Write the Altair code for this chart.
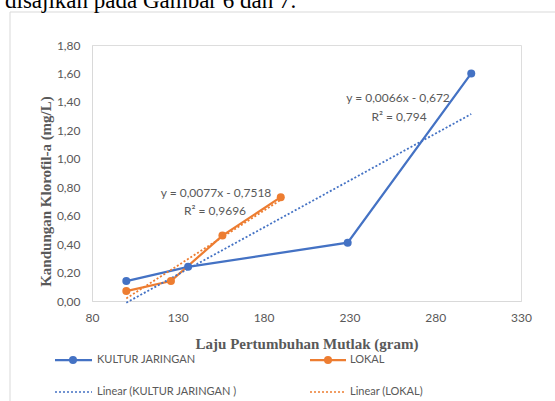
import altair as alt
import pandas as pd

# Measured points: absolute growth rate (g) vs chlorophyll-a content (mg/L)
kultur_x = [100, 136, 229, 301]
kultur_y = [0.14, 0.24, 0.41, 1.60]
lokal_x = [100, 126, 156, 190]
lokal_y = [0.07, 0.14, 0.46, 0.73]

series_names = ["KULTUR JARINGAN", "LOKAL"]
series_colors = ["#4472C4", "#ED7D31"]

# Linear trendlines as reported on the chart
trend_slope = [0.0066, 0.0077]
trend_intercept = [-0.672, -0.7518]
trend_r2 = ["0,794", "0,9696"]
trend_x_start = [100, 100]
trend_x_end = [301, 190]

x_ticks = [80, 130, 180, 230, 280, 330]
y_ticks = [0.0, 0.2, 0.4, 0.6, 0.8, 1.0, 1.2, 1.4, 1.6, 1.8]

W, H = 429, 256
GRAY = "#595959"
LABEL_FONT = "Lato"
SERIF = "Liberation Serif"

rows = []
for name, xs, ys in [(series_names[0], kultur_x, kultur_y), (series_names[1], lokal_x, lokal_y)]:
    for xv, yv in zip(xs, ys):
        rows.append({"series": name, "x": xv, "y": yv})
points = pd.DataFrame(rows)

trend_rows = []
for i, name in enumerate(series_names):
    for xv in (trend_x_start[i], trend_x_end[i]):
        trend_rows.append({"series": name, "x": xv,
                           "slope": trend_slope[i], "intercept": trend_intercept[i]})
trend = pd.DataFrame(trend_rows)

x_scale = alt.Scale(domain=[80, 330], nice=False, zero=False)
y_scale = alt.Scale(domain=[0, 1.8], nice=False)
color_scale = alt.Scale(domain=series_names, range=series_colors)

x_axis = alt.Axis(
    values=x_ticks, title="Laju Pertumbuhan Mutlak (gram)", grid=False, ticks=False,
    domainColor="#d9d9d9", domainWidth=1, labelColor=GRAY, labelFont=LABEL_FONT,
    labelFontSize=12, labelPadding=11, labelFlush=False, labelOverlap=False,
    titleFont=SERIF, titleFontWeight="bold", titleFontSize=15, titleColor=GRAY,
    titleY=42, titleBaseline="middle",
)
y_axis = alt.Axis(
    values=y_ticks, title="Kandungan Klorofil-a (mg/L)", grid=False, ticks=False,
    domainColor="#d9d9d9", domainWidth=1, labelColor=GRAY, labelFont=LABEL_FONT,
    labelFontSize=12, labelPadding=12, labelOverlap=False, labelFlush=False,
    labelExpr="replace(format(datum.value, '.2f'), '.', ',')",
    titleFont=SERIF, titleFontWeight="bold", titleFontSize=15, titleColor=GRAY,
    titleX=-47, titleY=146, titleBaseline="middle", titleAngle=270,
)

X = alt.X("x:Q", scale=x_scale, axis=x_axis)
color = alt.Color("series:N", scale=color_scale, legend=None)

lines = alt.Chart(points).mark_line(strokeWidth=2.25).encode(
    x=X, y=alt.Y("y:Q", scale=y_scale, axis=y_axis), color=color, detail="series:N",
)
dots = alt.Chart(points).mark_point(filled=True, size=64, opacity=1).encode(
    x=X, y=alt.Y("y:Q", scale=y_scale, axis=y_axis), color=color,
)
trendlines = alt.Chart(trend).transform_calculate(
    ty="datum.slope * datum.x + datum.intercept"
).mark_line(strokeWidth=1.8, strokeDash=[2, 2], clip=False).encode(
    x=X, y=alt.Y("ty:Q", scale=y_scale, axis=y_axis), color=color, detail="series:N",
)


def fmt(v):
    return str(v).replace(".", ",").replace("-", "")


def label(text, x, y, size=12, color=GRAY, font=LABEL_FONT, align="center",
          weight="normal"):
    return alt.Chart(alt.Data(values=[{}])).mark_text(
        font=font, fontSize=size, color=color, align=align, baseline="middle",
        fontWeight=weight,
    ).encode(x=alt.value(x), y=alt.value(y), text=alt.value(text))


def hline(x1, x2, y, color, dash=None, width=2.25):
    kw = {"color": color, "strokeWidth": width}
    if dash:
        kw["strokeDash"] = dash
    return alt.Chart(alt.Data(values=[{}])).mark_rule(**kw).encode(
        x=alt.value(x1), x2=alt.value(x2), y=alt.value(y))


def dot(x, y, color):
    return alt.Chart(alt.Data(values=[{}])).mark_point(
        filled=True, size=64, opacity=1, color=color
    ).encode(x=alt.value(x), y=alt.value(y))


eq_blue = f"y = {fmt(trend_slope[0])}x - {fmt(trend_intercept[0])}"
eq_orange = f"y = {fmt(trend_slope[1])}x - {fmt(trend_intercept[1])}"

annotations = [
    label(eq_orange, 124, 148), label(f"R² = {trend_r2[1]}", 123, 166),
    label(eq_blue, 306, 53), label(f"R² = {trend_r2[0]}", 307, 72),
]

legend = [
    hline(-37, 0, 315, series_colors[0]), dot(-19, 315, series_colors[0]),
    label(series_names[0], 5, 315, size=11, align="left"),
    hline(218, 254, 315, series_colors[1]), dot(236, 315, series_colors[1]),
    label(series_names[1], 258, 315, size=11, align="left"),
    hline(-37, 0, 347, series_colors[0], dash=[2, 2], width=1.5),
    label("Linear (KULTUR JARINGAN )", 5, 347, size=11, align="left"),
    hline(218, 254, 347, series_colors[1], dash=[2, 2], width=1.5),
    label("Linear (LOKAL)", 258, 347, size=11, align="left"),
]

# Surrounding frame and the running text above it
frame = [
    hline(-82, -82, -33, "#d9d9d9", width=1).encode(y=alt.value(-33), y2=alt.value(360)),
    hline(-82, 463, -33, "#d9d9d9", width=1),
]
header = label("disajikan pada Gambar 6 dan 7.", -87, -44, size=23, color="#000000",
               font=SERIF, align="left")

chart = alt.layer(
    lines, trendlines, dots, *annotations, *legend, *frame, header
).properties(
    width=W, height=H,
    autosize=alt.AutoSizeParams(type="none"),
    padding={"left": 92, "top": 45, "right": 34, "bottom": 100},
).configure_view(stroke=None).configure(background="white")

chart.save("out.html", embed_options={"renderer": "svg", "actions": False})
